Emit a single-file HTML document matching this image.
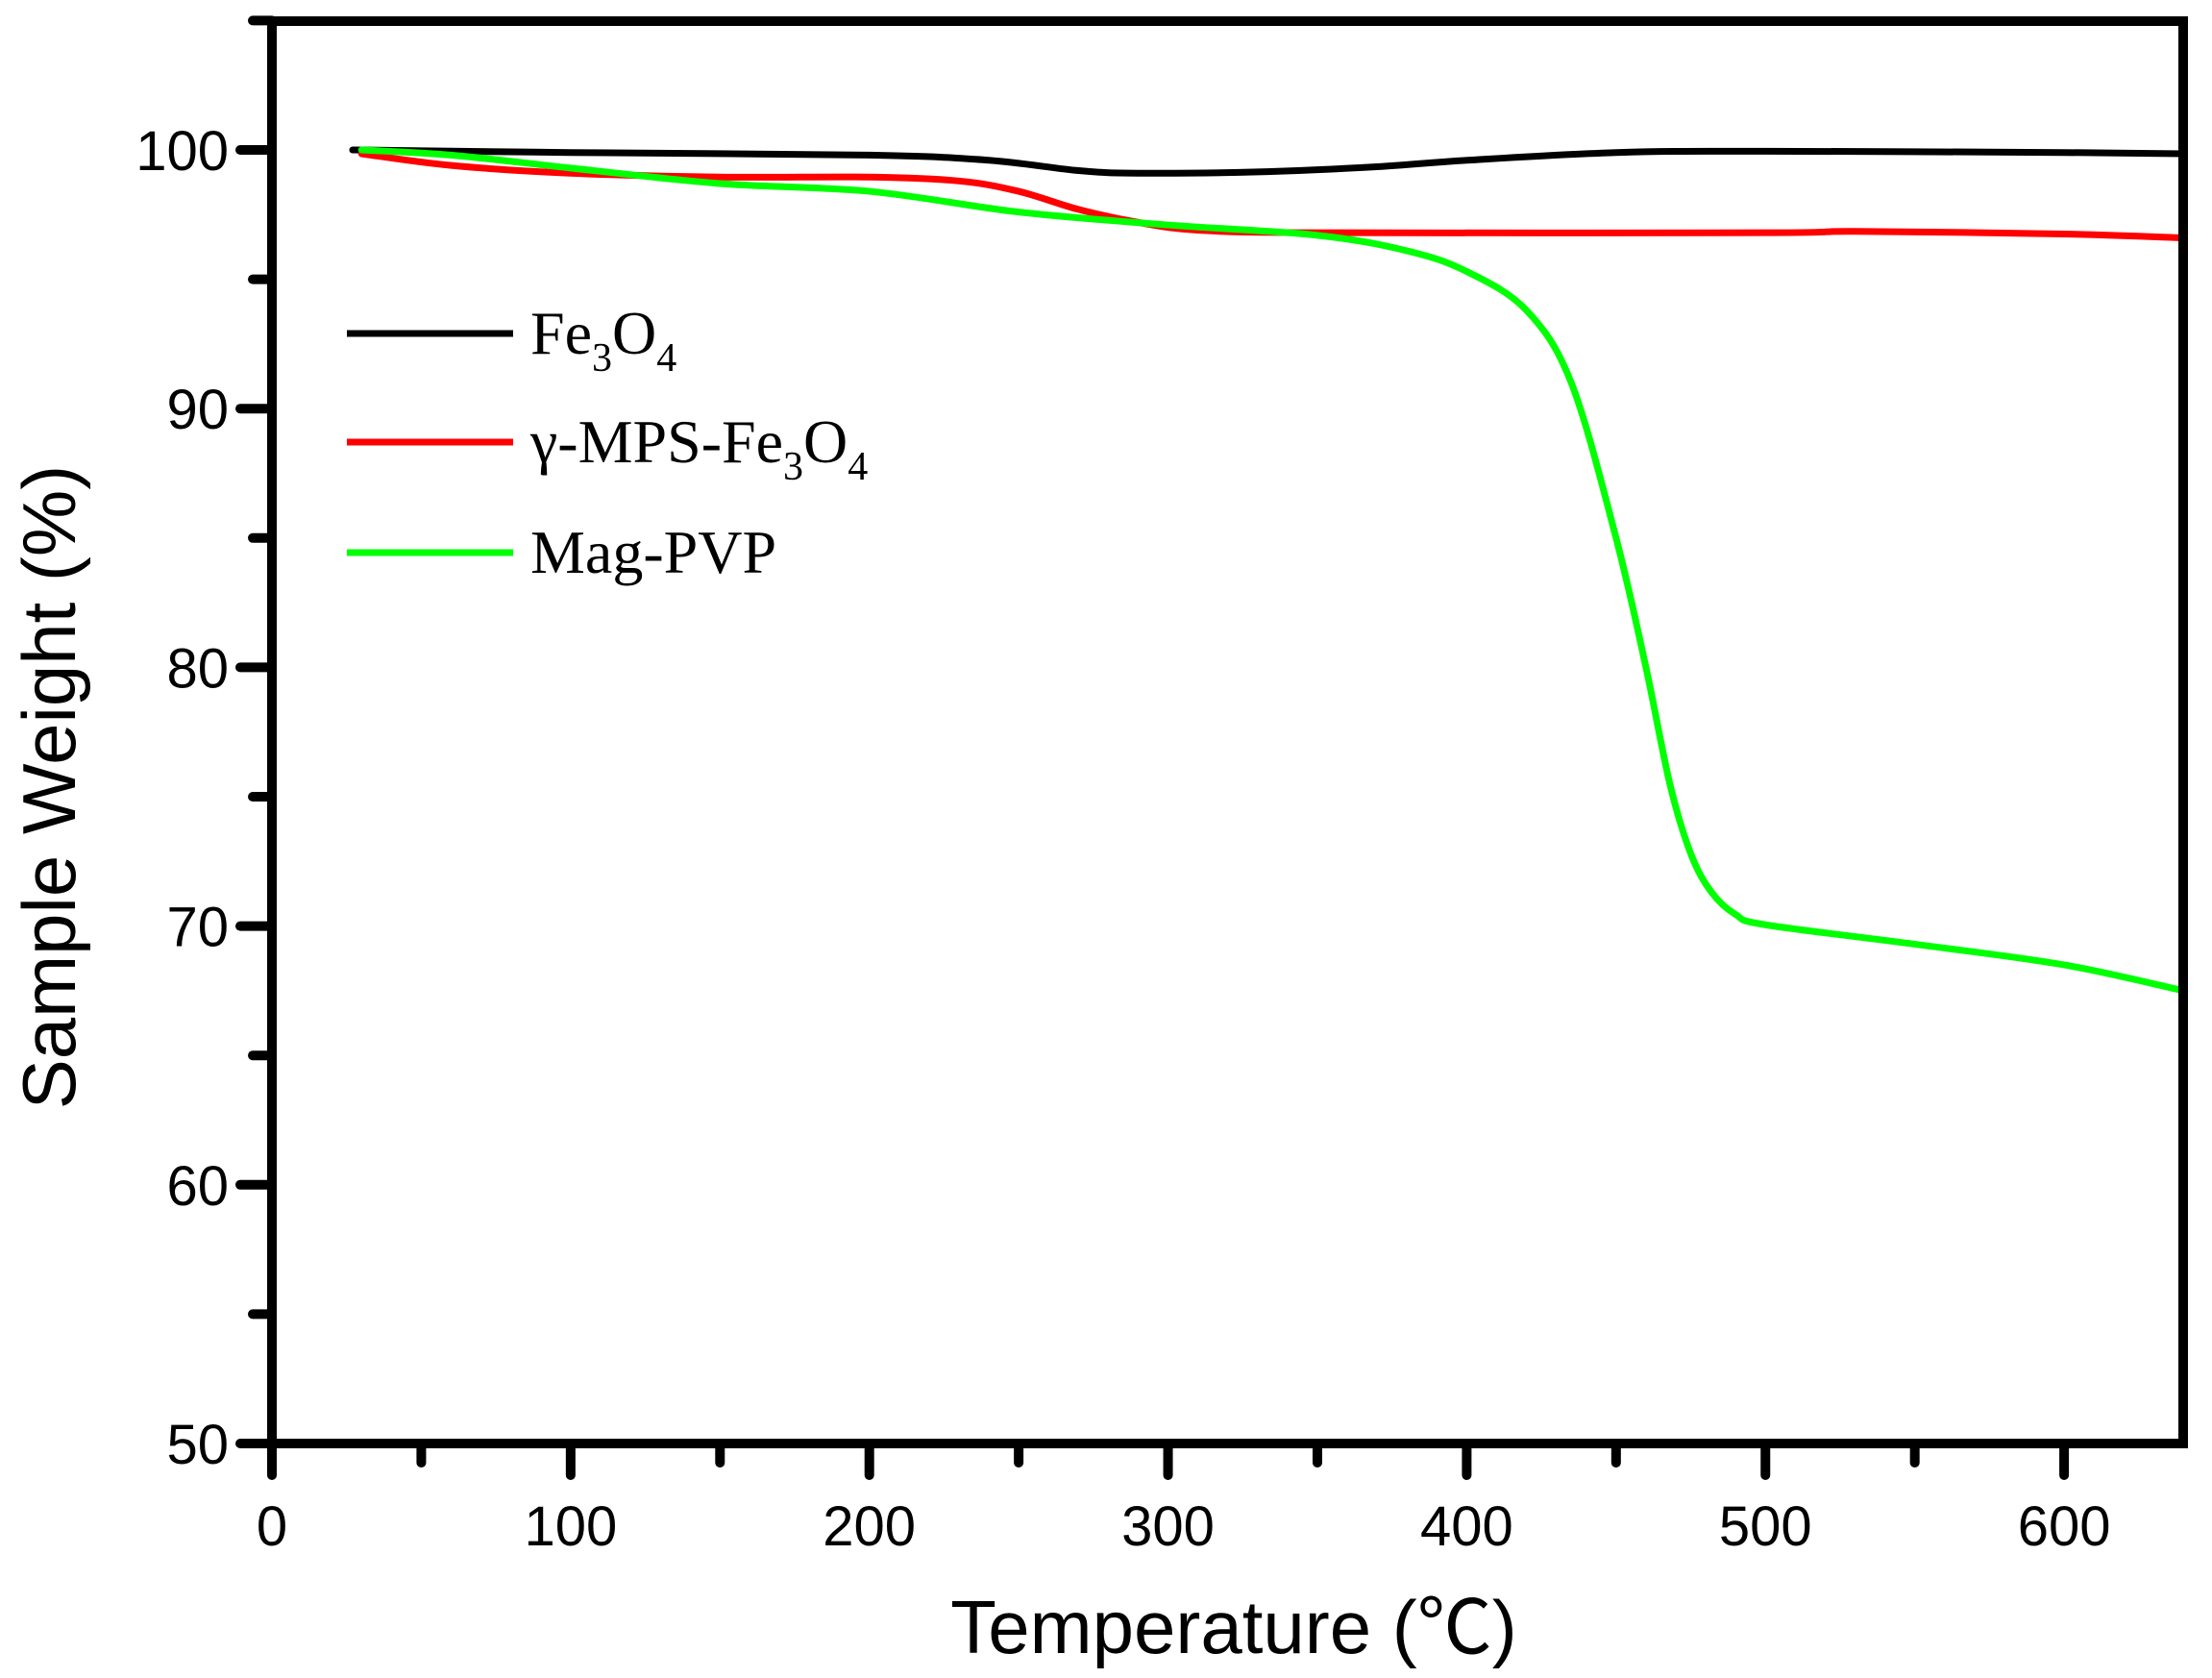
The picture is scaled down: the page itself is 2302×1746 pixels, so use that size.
<!DOCTYPE html>
<html><head><meta charset="utf-8"><style>
html,body{margin:0;padding:0;background:#fff;}
svg{display:block;}
</style></head><body>
<svg id="s" width="2302" height="1746" xmlns="http://www.w3.org/2000/svg">
<g id="ticks" stroke="#000" stroke-width="10" stroke-linecap="round"></g>
<g id="curves" fill="none" stroke-width="7" stroke-linejoin="round" stroke-linecap="round"></g>
<rect x="283" y="22" width="1989" height="1480" fill="none" stroke="#000" stroke-width="10"/>
<g id="labels" font-family="'Liberation Sans',Arial,sans-serif" font-size="58" fill="#000"></g>
<text x="1284" y="1720" text-anchor="middle" font-family="'Liberation Sans',Arial,sans-serif" font-size="78">Temperature (<tspan font-family="'Noto Sans CJK SC',sans-serif">℃</tspan>)</text>
<text transform="translate(78,819) rotate(-90)" text-anchor="middle" font-family="'Liberation Sans',Arial,sans-serif" font-size="78">Sample Weight (%)</text>
<g font-family="'Liberation Serif','Times New Roman',serif" font-size="64">
<line x1="361" y1="347" x2="534" y2="347" stroke="#000" stroke-width="7"/>
<line x1="361" y1="460" x2="534" y2="460" stroke="#ff0000" stroke-width="7"/>
<line x1="361" y1="575" x2="534" y2="575" stroke="#00ff00" stroke-width="7"/>
<text x="552" y="368">Fe<tspan font-size="42" dy="18">3</tspan><tspan dy="-18">O</tspan><tspan font-size="42" dy="18">4</tspan></text>
<text x="552" y="481">γ-MPS-Fe<tspan font-size="42" dy="18">3</tspan><tspan dy="-18">O</tspan><tspan font-size="42" dy="18">4</tspan></text>
<text x="552" y="596">Mag-PVP</text>
</g>
</svg>
<script>
var X=function(t){return 283+3.1085*t},Y=function(w){return 1502-26.92*(w-50)};
var ns="http://www.w3.org/2000/svg";
function el(p,n,a,txt){var e=document.createElementNS(ns,n);for(var k in a)e.setAttribute(k,a[k]);if(txt!=null)e.textContent=txt;document.getElementById(p).appendChild(e);}
for(var t=0;t<=600;t+=50){var L=t%100==0?33:20;el("ticks","line",{x1:X(t),y1:1502,x2:X(t),y2:1502+L});}
for(var t=0;t<=600;t+=100)el("labels","text",{x:X(t),y:1608,"text-anchor":"middle"},t);
for(var w=50;w<=105;w+=5){var L=w%10==0?33:20;el("ticks","line",{x1:283,y1:Y(w),x2:283-L,y2:Y(w)});}
for(var w=50;w<=100;w+=10)el("labels","text",{x:238,y:Y(w)+21,"text-anchor":"end"},w);
function path(pts){var P=pts.map(function(p){return[X(p[0]),Y(p[1])]});var d="M"+P[0][0]+","+P[0][1];
for(var i=0;i<P.length-1;i++){var p0=P[i-1]||P[i],p1=P[i],p2=P[i+1],p3=P[i+2]||p2;
d+=" C"+(p1[0]+(p2[0]-p0[0])/6)+","+(p1[1]+(p2[1]-p0[1])/6)+" "+(p2[0]-(p3[0]-p1[0])/6)+","+(p2[1]-(p3[1]-p1[1])/6)+" "+p2[0]+","+p2[1];}return d;}
var black=[[27,100],[100,99.9],[200,99.8],[240,99.6],[270,99.2],[290,99.1],[330,99.15],[370,99.35],[400,99.6],[450,99.9],[500,99.95],[600,99.9],[640,99.85]];
var red=[[30,99.85],[60,99.4],[100,99.1],[150,98.95],[200,98.95],[230,98.8],[250,98.4],[270,97.7],[290,97.2],[310,96.9],[350,96.8],[500,96.8],[530,96.85],[600,96.75],[640,96.6]];
var green=[[30,100],[60,99.8],[100,99.3],[150,98.7],[200,98.4],[250,97.6],[300,97.1],[350,96.7],[380,96.1],[400,95.3],[420,93.8],[435,91],[450,85],[460,80],[468,75.5],[475,72.8],[482,71.3],[490,70.45],[500,70.05],[550,69.3],[600,68.5],[640,67.5]];
el("curves","path",{d:path(black),stroke:"#000"});
el("curves","path",{d:path(red),stroke:"#ff0000"});
el("curves","path",{d:path(green),stroke:"#00ff00"});
</script>
</body></html>
